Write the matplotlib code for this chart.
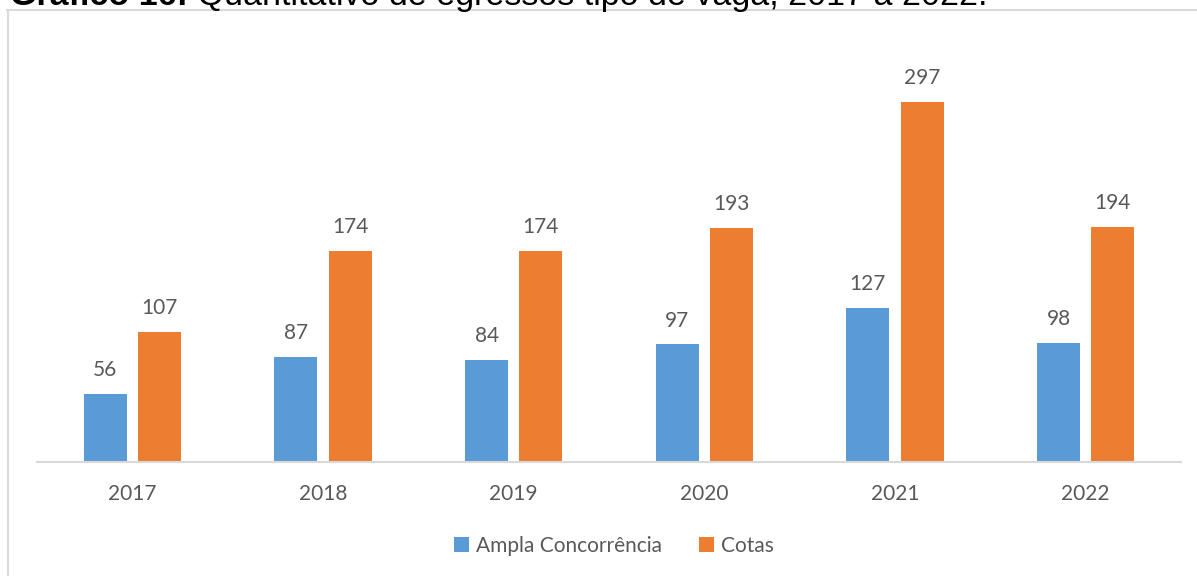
import matplotlib
matplotlib.use("Agg")
import matplotlib.pyplot as plt
from matplotlib.lines import Line2D
import numpy as np

years = ["2017", "2018", "2019", "2020", "2021", "2022"]
ampla = [56, 87, 84, 97, 127, 98]
cotas = [107, 174, 174, 193, 297, 194]
series_names = ["Ampla Concorrência", "Cotas"]
title_bold = "Gráfico 16:"
title_rest = " Quantitativo de egressos tipo de vaga, 2017 a 2022."

W, H = 1197, 576
fig = plt.figure(figsize=(W / 100, H / 100), dpi=100)
plt.rcParams['font.family'] = ['Lato', 'DejaVu Sans']

BLUE = "#5B9BD5"
ORANGE = "#ED7D31"
TXT = "#595959"
GRID = "#D9D9D9"

# outer frame (top and left visible)
fig.add_artist(Line2D([7 / W, 1.0], [1 - 9.5 / H, 1 - 9.5 / H], transform=fig.transFigure,
                      color=GRID, lw=1.5))
fig.add_artist(Line2D([7.5 / W, 7.5 / W], [1 - 9.5 / H, 0], transform=fig.transFigure,
                      color=GRID, lw=1.5))

# clipped title (only its bottom is visible in the reference)
base_y = 1 - 5 / H
fs_title = 24.5
t1 = fig.text(10 / W, base_y, title_bold, fontsize=fs_title, fontweight='bold',
              family='Liberation Sans', va='baseline', ha='left', color='black')
fig.canvas.draw()
bb = t1.get_window_extent()
fig.text(bb.x1 / W, base_y, title_rest, fontsize=fs_title, family='Liberation Sans',
         va='baseline', ha='left', color='black')

ax_left, ax_right = 37, 1181
ax_base, ax_top = 462, 38
ax = fig.add_axes([ax_left / W, (H - ax_base) / H, (ax_right - ax_left) / W, (ax_base - ax_top) / H])

x = np.arange(len(years))
bw = 0.226
off = 0.142
b1 = ax.bar(x - off, ampla, bw, color=BLUE, label=series_names[0])
b2 = ax.bar(x + off, cotas, bw, color=ORANGE, label=series_names[1])
for bars in (b1, b2):
    for r in bars:
        ax.annotate(f"{int(r.get_height())}", (r.get_x() + r.get_width() / 2, r.get_height()),
                    xytext=(0, 10), textcoords='offset points', ha='center', va='bottom',
                    fontsize=15, color=TXT)

ax.set_xlim(-0.5, len(years) - 0.5)
ax.set_ylim(0, 350)
ax.set_xticks(x)
ax.set_xticklabels(years, fontsize=15, color=TXT)
ax.tick_params(axis='x', length=0, pad=16)
ax.set_yticks([])
for s in ['top', 'right', 'left']:
    ax.spines[s].set_visible(False)
ax.spines['bottom'].set_color(GRID)
ax.spines['bottom'].set_linewidth(1.5)

leg = fig.legend(handles=[b1, b2], labels=series_names, loc='center', ncol=2,
                 bbox_to_anchor=(614 / W, 1 - 546 / H), frameon=False, fontsize=15,
                 handlelength=0.7, handleheight=0.7, handletextpad=0.35, columnspacing=1.8,
                 labelcolor=TXT)

fig.savefig("out.png", dpi=100)
